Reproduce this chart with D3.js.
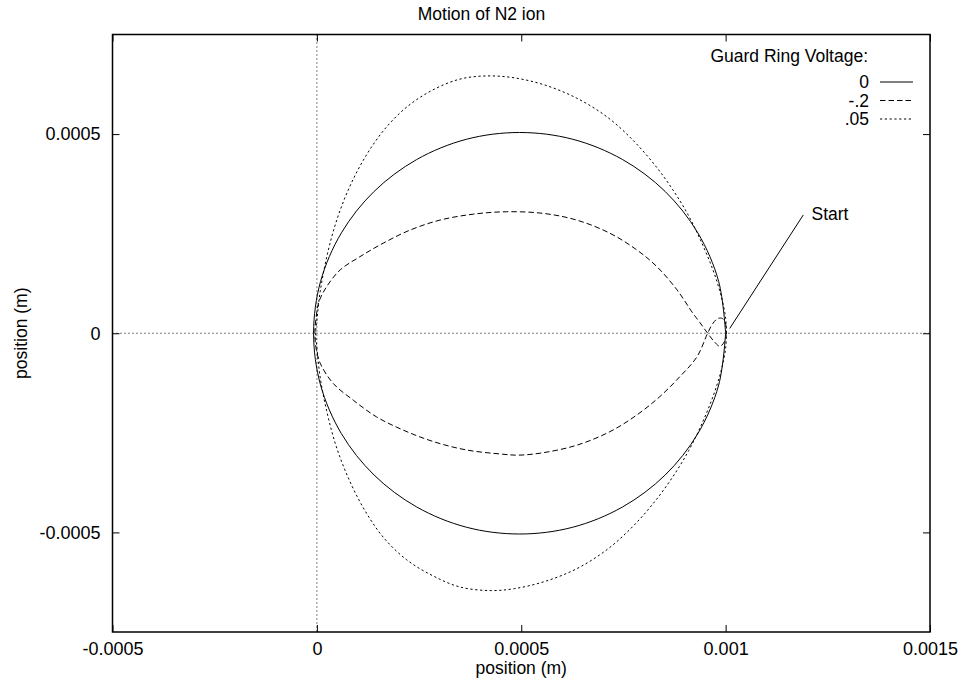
<!DOCTYPE html>
<html>
<head>
<meta charset="utf-8">
<script src="https://cdn.jsdelivr.net/npm/d3@7"></script>
<style>
  html, body { margin: 0; padding: 0; background: #fff; }
  svg { display: block; }
  text { font-family: "Liberation Sans", Arial, Helvetica, sans-serif; fill: #000; }
</style>
</head>
<body>
<svg id="chart" width="963" height="686"></svg>
<script>
// Axis ticks
const xTicks = [-0.0005, 0, 0.0005, 0.001, 0.0015];
const xTickLabels = ["-0.0005", "0", "0.0005", "0.001", "0.0015"];
const yTicks = [-0.0005, 0, 0.0005];
const yTickLabels = ["-0.0005", "0", "0.0005"];

// Legend entries (guard ring voltage)
const seriesNames = ["0", "-.2", ".05"];

// Trajectory, guard ring at 0 V: [x, y] in metres
const path0 = [
  [0.001000, 0.000000], [0.000983, 0.000130], [0.000932, 0.000252], [0.000852, 0.000356],
  [0.000748, 0.000436], [0.000626, 0.000487], [0.000496, 0.000504], [0.000366, 0.000487],
  [0.000244, 0.000436], [0.000140, 0.000356], [0.000060, 0.000252], [0.000009, 0.000130],
  [-0.000008, 0.000000], [0.000009, -0.000130], [0.000060, -0.000252], [0.000140, -0.000356],
  [0.000244, -0.000436], [0.000366, -0.000487], [0.000496, -0.000504], [0.000626, -0.000487],
  [0.000748, -0.000436], [0.000852, -0.000356], [0.000932, -0.000252], [0.000983, -0.000130],
  [0.001000, 0.000000]
];

// Trajectory, guard ring at -.2 V (with the small loop near the start)
const pathM02 = [
  [0.001002, 0.000001], [0.000997, -0.000021], [0.000986, -0.000033], [0.000973, -0.000022],
  [0.000956, 0.000000], [0.000937, 0.000027], [0.000920, 0.000050], [0.000881, 0.000109],
  [0.000832, 0.000167], [0.000783, 0.000209], [0.000717, 0.000251], [0.000636, 0.000284],
  [0.000553, 0.000301], [0.000464, 0.000305], [0.000383, 0.000299], [0.000301, 0.000284],
  [0.000228, 0.000259], [0.000162, 0.000226], [0.000105, 0.000192], [0.000057, 0.000159],
  [0.000024, 0.000117], [0.000005, 0.000079], [-0.000002, 0.000038], [-0.000005, 0.000000],
  [-0.000002, -0.000037], [0.000008, -0.000075], [0.000040, -0.000126], [0.000089, -0.000168],
  [0.000146, -0.000210], [0.000211, -0.000243], [0.000285, -0.000272], [0.000366, -0.000293],
  [0.000448, -0.000303], [0.000493, -0.000306], [0.000553, -0.000300], [0.000636, -0.000281],
  [0.000717, -0.000247], [0.000783, -0.000205], [0.000839, -0.000159], [0.000888, -0.000109],
  [0.000930, -0.000059], [0.000956, 0.000000], [0.000969, 0.000025], [0.000981, 0.000037],
  [0.000992, 0.000037], [0.001000, 0.000023], [0.001002, 0.000001]
];

// Trajectory, guard ring at .05 V
const path005 = [
  [0.001002, 0.000000], [0.001000, 0.000038], [0.000989, 0.000094], [0.000969, 0.000159],
  [0.000942, 0.000226], [0.000910, 0.000294], [0.000871, 0.000360], [0.000827, 0.000422],
  [0.000773, 0.000485], [0.000710, 0.000543], [0.000636, 0.000590], [0.000558, 0.000623],
  [0.000484, 0.000641], [0.000416, 0.000646], [0.000350, 0.000638], [0.000284, 0.000611],
  [0.000220, 0.000568], [0.000164, 0.000510], [0.000118, 0.000442], [0.000079, 0.000365],
  [0.000047, 0.000279], [0.000024, 0.000191], [0.000008, 0.000104], [0.000000, 0.000033],
  [-0.000003, 0.000000], [0.000000, -0.000035], [0.000008, -0.000110], [0.000024, -0.000195],
  [0.000047, -0.000283], [0.000079, -0.000368], [0.000118, -0.000446], [0.000164, -0.000514],
  [0.000220, -0.000569], [0.000284, -0.000609], [0.000350, -0.000637], [0.000424, -0.000646],
  [0.000484, -0.000641], [0.000558, -0.000623], [0.000636, -0.000591], [0.000710, -0.000543],
  [0.000773, -0.000485], [0.000827, -0.000422], [0.000871, -0.000360], [0.000910, -0.000294],
  [0.000942, -0.000227], [0.000969, -0.000159], [0.000989, -0.000094], [0.001000, -0.000038],
  [0.001002, 0.000000]
];

// "Start" annotation: arrow tail, arrow head, label anchor (metres)
const startArrowFrom = [0.00119, 0.000297];
const startArrowTo = [0.00101, 0.000012];
const startLabelAt = [0.00121, 0.0003];

const svg = d3.select("#chart");
const W = 963, H = 686;
const plotLeft = 112.5, plotRight = 930, plotTop = 34.5, plotBottom = 632;
const fontSize = 17.5;
const tickFontSize = 18;

const x = d3.scaleLinear().domain([-0.0005, 0.0015]).range([plotLeft, plotRight]);
const y = d3.scaleLinear().domain([-0.00075, 0.00075]).range([plotBottom, plotTop]);

// Zero axes (dotted)
svg.append("line")
  .attr("x1", x(0)).attr("x2", x(0)).attr("y1", plotTop).attr("y2", plotBottom)
  .attr("stroke", "#000").attr("stroke-width", 1).attr("stroke-dasharray", "1,3");
svg.append("line")
  .attr("x1", plotLeft).attr("x2", plotRight).attr("y1", y(0)).attr("y2", y(0))
  .attr("stroke", "#000").attr("stroke-width", 1).attr("stroke-dasharray", "1,3");

// Axes with inward ticks, mirrored on the top and right edges
const tickLen = 7;
function styleAxis(g) {
  g.select(".domain").remove();
  g.selectAll(".tick line").attr("stroke", "#000").attr("stroke-width", 1);
  g.selectAll(".tick text").attr("font-size", tickFontSize).attr("fill", "#000");
  g.attr("font-family", null).attr("font-size", null);
}
svg.append("g").attr("transform", `translate(0,${plotBottom})`)
  .call(d3.axisBottom(x).tickValues(xTicks).tickFormat((d, i) => xTickLabels[i])
    .tickSizeInner(-tickLen).tickSizeOuter(0).tickPadding(10))
  .call(styleAxis);
svg.append("g").attr("transform", `translate(0,${plotTop})`)
  .call(d3.axisTop(x).tickValues(xTicks).tickFormat("")
    .tickSizeInner(-tickLen).tickSizeOuter(0))
  .call(styleAxis);
svg.append("g").attr("transform", `translate(${plotLeft},0)`)
  .call(d3.axisLeft(y).tickValues(yTicks).tickFormat((d, i) => yTickLabels[i])
    .tickSizeInner(-tickLen).tickSizeOuter(0).tickPadding(12))
  .call(styleAxis);
svg.append("g").attr("transform", `translate(${plotRight},0)`)
  .call(d3.axisRight(y).tickValues(yTicks).tickFormat("")
    .tickSizeInner(-tickLen).tickSizeOuter(0))
  .call(styleAxis);

// Trajectories
const line = d3.line()
  .x(d => x(d[0])).y(d => y(d[1]))
  .curve(d3.curveCatmullRom.alpha(0.5));

const series = [
  { name: seriesNames[0], data: path0, dash: null },
  { name: seriesNames[1], data: pathM02, dash: "5.5,3" },
  { name: seriesNames[2], data: path005, dash: "2.2,2.6" }
];

svg.append("g").selectAll("path").data(series).join("path")
  .attr("d", d => line(d.data))
  .attr("fill", "none")
  .attr("stroke", "#000")
  .attr("stroke-width", 1)
  .attr("stroke-dasharray", d => d.dash);

// Start annotation
svg.append("line")
  .attr("x1", x(startArrowFrom[0])).attr("y1", y(startArrowFrom[1]))
  .attr("x2", x(startArrowTo[0])).attr("y2", y(startArrowTo[1]))
  .attr("stroke", "#000").attr("stroke-width", 1);
svg.append("text")
  .attr("x", x(startLabelAt[0])).attr("y", y(startLabelAt[1]))
  .attr("dy", "0.35em").attr("font-size", fontSize)
  .text("Start");

// Plot frame
svg.append("rect")
  .attr("x", plotLeft).attr("y", plotTop)
  .attr("width", plotRight - plotLeft).attr("height", plotBottom - plotTop)
  .attr("fill", "none").attr("stroke", "#000").attr("stroke-width", 1.5);

// Title and axis labels
svg.append("text")
  .attr("x", W / 2).attr("y", 14).attr("dy", "0.35em")
  .attr("text-anchor", "middle").attr("font-size", fontSize)
  .text("Motion of N2 ion");
svg.append("text")
  .attr("x", (plotLeft + plotRight) / 2).attr("y", 668).attr("dy", "0.35em")
  .attr("text-anchor", "middle").attr("font-size", fontSize)
  .text("position (m)");
svg.append("text")
  .attr("transform", `translate(21,${(plotTop + plotBottom) / 2}) rotate(-90)`)
  .attr("dy", "0.35em")
  .attr("text-anchor", "middle").attr("font-size", fontSize)
  .text("position (m)");

// Legend
const legend = svg.append("g");
legend.append("text")
  .attr("x", 868).attr("y", 56).attr("dy", "0.35em")
  .attr("text-anchor", "end").attr("font-size", fontSize)
  .text("Guard Ring Voltage:");
const rowY = [82, 100.5, 119];
const rows = legend.selectAll("g.row").data(series).join("g")
  .attr("class", "row")
  .attr("transform", (d, i) => `translate(0,${rowY[i]})`);
rows.append("text")
  .attr("x", 869).attr("dy", "0.35em")
  .attr("text-anchor", "end").attr("font-size", fontSize)
  .text(d => d.name);
rows.append("line")
  .attr("x1", 880).attr("x2", 913)
  .attr("stroke", "#000").attr("stroke-width", 1)
  .attr("stroke-dasharray", d => d.dash);
</script>
</body>
</html>
